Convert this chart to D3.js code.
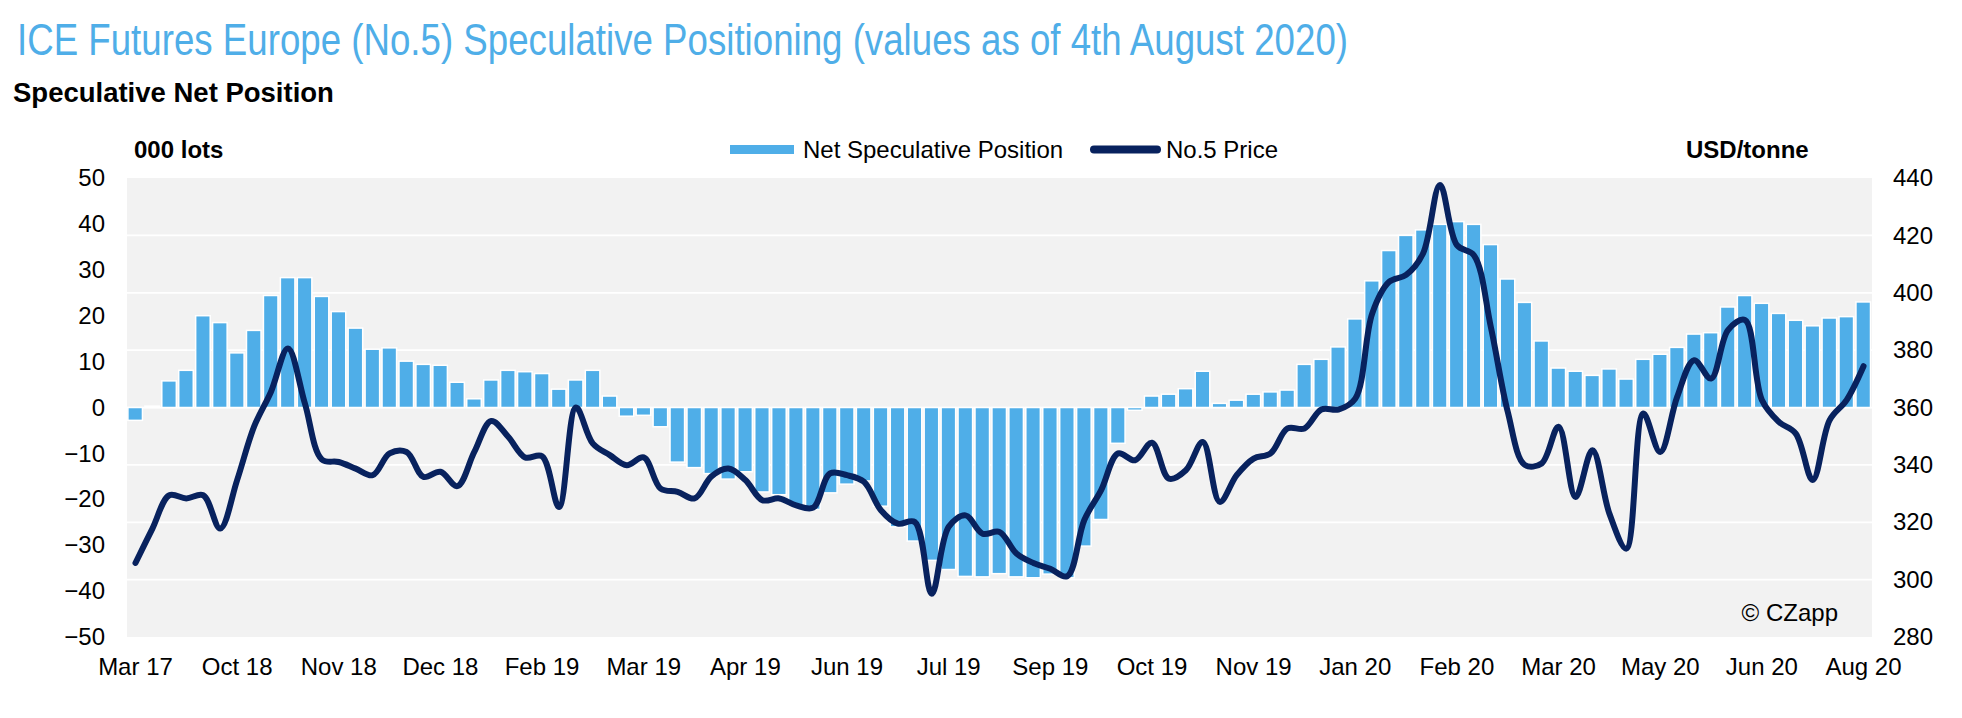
<!DOCTYPE html>
<html><head><meta charset="utf-8">
<script src="https://cdn.jsdelivr.net/npm/d3@7"></script>
<style>
body{margin:0;background:#fff;}
svg{display:block;font-family:"Liberation Sans",Arial,Helvetica,sans-serif;}
</style>
</head><body>
<svg id="chart" width="1962" height="718"></svg>
<script>
// ---- data ----
const tickLabels = ["Mar 17","Oct 18","Nov 18","Dec 18","Feb 19","Mar 19","Apr 19","Jun 19","Jul 19",
  "Sep 19","Oct 19","Nov 19","Jan 20","Feb 20","Mar 20","May 20","Jun 20","Aug 20"];

// Net speculative position, 000 lots (weekly)
const netPosition = [
  -2.8, 0.3, 5.8, 8.1, 20.0, 18.5, 11.9, 16.8, 24.4, 28.3,
  28.3, 24.2, 20.9, 17.3, 12.7, 13.0, 10.1, 9.4, 9.2, 5.5,
  1.9, 6.0, 8.1, 7.8, 7.4, 4.0, 6.0, 8.1, 2.5, -1.9,
  -1.7, -4.2, -11.9, -13.1, -14.4, -15.6, -14.0, -18.4, -19.0, -21.3,
  -22.2, -18.6, -16.7, -16.0, -21.5, -26.0, -29.1, -33.3, -35.3, -36.8,
  -36.9, -36.2, -36.9, -37.1, -36.3, -37.1, -30.2, -24.4, -7.8, -0.6,
  2.5, 2.9, 4.1, 7.9, 0.9, 1.6, 2.9, 3.4, 3.8, 9.4,
  10.5, 13.2, 19.3, 27.6, 34.2, 37.5, 38.7, 39.9, 40.5, 39.9,
  35.5, 28.0, 22.9, 14.5, 8.6, 7.9, 7.0, 8.4, 6.2, 10.5,
  11.6, 13.1, 16.0, 16.3, 21.9, 24.4, 22.7, 20.5, 19.0, 17.8,
  19.5, 19.8, 23.0
];

// No.5 price, USD/tonne (weekly)
const price = [
  305.8, 317.8, 329.4, 328.3, 329.4, 317.8, 334.7, 353.3, 365.5, 380.6,
  361.4, 341.9, 341.0, 338.7, 336.4, 344.0, 344.5, 335.8, 337.6, 332.6,
  344.5, 355.3, 349.8, 342.6, 343.0, 325.3, 360.0, 347.4, 343.4, 339.9,
  342.6, 331.7, 330.6, 328.3, 336.0, 338.7, 334.7, 327.7, 328.3, 325.9,
  325.1, 337.0, 336.4, 334.1, 324.2, 319.5, 320.1, 295.1, 318.4, 322.4,
  316.0, 316.6, 309.1, 305.8, 303.8, 301.2, 320.7, 331.2, 344.0, 341.6,
  347.7, 335.2, 338.1, 348.0, 327.1, 336.4, 342.2, 344.0, 352.7, 352.7,
  359.3, 359.3, 363.1, 392.8, 403.8, 406.2, 413.7, 437.6, 416.6, 413.1,
  388.1, 358.5, 340.0, 340.5, 353.3, 328.8, 345.1, 323.0, 310.8, 357.9,
  344.5, 363.7, 376.5, 370.1, 387.0, 390.5, 362.6, 355.0, 350.9, 334.7,
  355.6, 362.6, 374.4
];

const leftTicks = [50, 40, 30, 20, 10, 0, -10, -20, -30, -40, -50];
const rightTicks = [440, 420, 400, 380, 360, 340, 320, 300, 280];
const gridValues = [420, 400, 380, 360, 340, 320, 300];

// weekly categories (last = 4 Aug 2020)
const lastWeek = new Date(2020, 7, 4);
const weeks = netPosition.map((_, i) => d3.timeWeek.offset(lastWeek, i - (netPosition.length - 1)));

// ---- layout ----
const W = 1962, H = 718;
const plot = {left: 127, right: 1872, top: 178, bottom: 637};
const BLUE = "#4faee8", NAVY = "#08225e", BG = "#f2f2f2";
const FS = 24;

const svg = d3.select("#chart");

const x = d3.scaleBand().domain(weeks).range([plot.left, plot.right]).padding(0);
const yL = d3.scaleLinear().domain([-50, 50]).range([plot.bottom, plot.top]);
const yR = d3.scaleLinear().domain([280, 440]).range([plot.bottom, plot.top]);

// title
svg.append("text")
  .attr("x", 17).attr("y", 55)
  .attr("fill", BLUE)
  .attr("font-family", "'Liberation Sans Narrow','Arial Narrow','Liberation Sans',Arial,sans-serif")
  .attr("font-size", 44)
  .attr("textLength", 1331).attr("lengthAdjust", "spacingAndGlyphs")
  .text("ICE Futures Europe (No.5) Speculative Positioning (values as of 4th August 2020)");

svg.append("text")
  .attr("x", 13).attr("y", 102)
  .attr("font-size", 27.5).attr("font-weight", "bold").attr("fill", "#000")
  .text("Speculative Net Position");

// plot background
svg.append("rect")
  .attr("x", plot.left).attr("y", plot.top)
  .attr("width", plot.right - plot.left).attr("height", plot.bottom - plot.top)
  .attr("fill", BG);

// gridlines
svg.append("g").selectAll("line").data(gridValues).join("line")
  .attr("x1", plot.left).attr("x2", plot.right)
  .attr("y1", d => yR(d)).attr("y2", d => yR(d))
  .attr("stroke", "#fff").attr("stroke-width", 1.75);

// bars
svg.append("g").selectAll("rect").data(netPosition).join("rect")
  .attr("x", (d, i) => x(weeks[i]) + 0.9)
  .attr("width", x.bandwidth() - 2.4)
  .attr("y", d => Math.min(yL(d), yL(0)))
  .attr("height", d => Math.abs(yL(d) - yL(0)))
  .attr("fill", BLUE)
  .attr("stroke", "#fff").attr("stroke-width", 1.5);

// price line
const line = d3.line()
  .x((d, i) => x(weeks[i]) + x.bandwidth() / 2)
  .y(d => yR(d))
  .curve(d3.curveCatmullRom.alpha(0.5));

svg.append("path").datum(price)
  .attr("d", line)
  .attr("fill", "none").attr("stroke", NAVY)
  .attr("stroke-width", 6).attr("stroke-linejoin", "round").attr("stroke-linecap", "round");

// axes
const axL = svg.append("g").attr("transform", `translate(${plot.left},0)`)
  .call(d3.axisLeft(yL).tickValues(leftTicks).tickSize(0).tickPadding(22).tickFormat(d3.format("d")));
const axR = svg.append("g").attr("transform", `translate(${plot.right},0)`)
  .call(d3.axisRight(yR).tickValues(rightTicks).tickSize(0).tickPadding(21).tickFormat(d3.format("d")));
const tickWeeks = tickLabels.map((_, k) => weeks[k * 6]);
const axB = svg.append("g").attr("transform", `translate(0,${plot.bottom})`)
  .call(d3.axisBottom(x).tickValues(tickWeeks).tickSize(0).tickPadding(21)
    .tickFormat((d, k) => tickLabels[k]));
[axL, axR, axB].forEach(a => {
  a.select(".domain").remove();
  a.selectAll("text").attr("font-size", FS)
    .attr("font-family", "'Liberation Sans',Arial,sans-serif").attr("fill", "#000");
});

// axis titles
svg.append("text").attr("x", 134).attr("y", 158)
  .attr("font-size", FS).attr("font-weight", "bold").text("000 lots");
svg.append("text").attr("x", 1686).attr("y", 158)
  .attr("font-size", FS).attr("font-weight", "bold").text("USD/tonne");

// legend
const lg = svg.append("g");
lg.append("rect").attr("x", 730).attr("y", 145).attr("width", 64).attr("height", 9).attr("fill", BLUE);
lg.append("text").attr("x", 803).attr("y", 158).attr("font-size", FS).text("Net Speculative Position");
lg.append("line").attr("x1", 1094).attr("x2", 1157).attr("y1", 149.5).attr("y2", 149.5)
  .attr("stroke", NAVY).attr("stroke-width", 8).attr("stroke-linecap", "round");
lg.append("text").attr("x", 1166).attr("y", 158).attr("font-size", FS).text("No.5 Price");

// copyright
svg.append("text").attr("x", 1838).attr("y", 621).attr("text-anchor", "end")
  .attr("font-size", FS).text("© CZapp");
</script>
</body></html>
